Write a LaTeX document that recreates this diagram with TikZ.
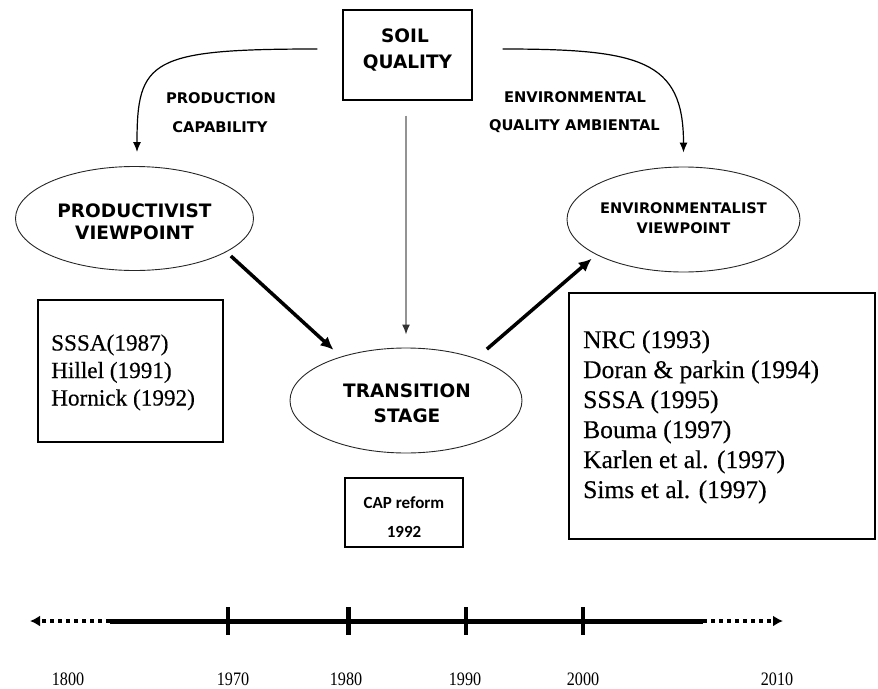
\documentclass[tikz,border=0pt]{standalone}
\usepackage{fontspec}
\usetikzlibrary{shapes.geometric,arrows.meta}
\newfontfamily\dvs{DejaVu Sans}
\newfontfamily\carl{Carlito}
\newfontfamily\lser{Liberation Serif}[FakeBold=0.35]
\newfontfamily\yser{Liberation Serif}
\begin{document}
\begin{tikzpicture}[x=1pt,y=-1pt,
 box/.style={draw=black, line width=1.2pt, rectangle, inner sep=0pt},
 ell/.style={draw=black!85, line width=0.9pt, ellipse, inner sep=0pt},
 head/.style={font=\dvs\bfseries\fontsize{18.5}{22}\selectfont, inner sep=0pt, anchor=base},
 envhead/.style={head, font=\dvs\bfseries\fontsize{14.6}{20}\selectfont},
 lab/.style={font=\dvs\bfseries\fontsize{14.7}{20}\selectfont, inner sep=0pt, anchor=base},
 capt/.style={font=\carl\bfseries\fontsize{17}{20}\selectfont, inner sep=0pt, anchor=base},
 refl/.style={font=\lser\fontsize{23.2}{27}\selectfont, inner sep=0pt, anchor=base west},
 refr/.style={font=\lser\fontsize{25.5}{30}\selectfont, inner sep=0pt, anchor=base west},
 yr/.style={font=\yser\fontsize{19}{19}\selectfont, inner sep=0pt, anchor=base, xscale=0.85, transform shape},
 curv/.style={line width=1.2pt, -{Latex[length=10pt,width=8pt]}},
 thickarr/.style={line width=3.5pt, -{Latex[length=13pt,width=12pt]}},
 grayarr/.style={draw=gray!85, line width=1.5pt, -{Latex[length=10pt,width=8pt,black!80]}},
 dotline/.style={line width=4pt, dash pattern=on 4pt off 4pt, -{Latex[length=10pt,width=11pt]}},
]
\useasboundingbox (0,0) rectangle (878,688);

% boxes and ellipses
\node[box, minimum width=129pt, minimum height=90pt] (soil) at (407.5,55) {};
\node[ell, minimum width=238pt, minimum height=104pt] (prod) at (134.5,218.5) {};
\node[ell, minimum width=233pt, minimum height=105pt] (env) at (683.5,219.5) {};
\node[ell, minimum width=232pt, minimum height=105pt] (trans) at (406,400.5) {};
\node[box, minimum width=185pt, minimum height=142pt] (lbox) at (130.5,371) {};
\node[box, minimum width=306pt, minimum height=246pt] (rbox) at (722,416) {};
\node[box, minimum width=118pt, minimum height=69pt] (cap) at (404,512.5) {};

% texts
\node[head] (soilA) at (405,42) {SOIL};
\node[head] (soilB) at (407.5,68) {QUALITY};
\node[head] (prodA) at (134.5,217) {PRODUCTIVIST};
\node[head] (prodB) at (134.5,239) {VIEWPOINT};
\node[envhead] (envA) at (683.5,213) {ENVIRONMENTALIST};
\node[envhead] (envB) at (683.5,233) {VIEWPOINT};
\node[head] (transA) at (407,397) {TRANSITION};
\node[head] (transB) at (407,422) {STAGE};
\node[lab] (labA) at (221,103) {PRODUCTION};
\node[lab] (labB) at (220,132) {CAPABILITY};
\node[lab] (labC) at (575,102) {ENVIRONMENTAL};
\node[lab] (labD) at (574.5,130) {QUALITY AMBIENTAL};
\node[capt] (capA) at (404,508) {CAP reform};
\node[capt] (capB) at (404,537) {1992};

\node[refl] (l1) at (51,350.5) {SSSA(1987)};
\node[refl] (l2) at (51,378) {Hillel (1991)};
\node[refl] (l3) at (51,405.5) {Hornick (1992)};

\node[refr] (r1) at (583,348) {NRC (1993)};
\node[refr] (r2) at (583,378) {Doran \& parkin (1994)};
\node[refr] (r3) at (583,408) {SSSA (1995)};
\node[refr] (r4) at (583,438) {Bouma (1997)};
\node[refr] (r5) at (583,468) {Karlen et al. (1997)};
\node[refr] (r6) at (583,498) {Sims et al. (1997)};

% connectors
\draw[curv] ([xshift=-25pt,yshift=6pt]soil.west) .. controls (150,49) and (137,60) .. ([xshift=2.5pt,yshift=14pt]prod.north);
\draw[curv] ([xshift=30pt,yshift=6pt]soil.east) .. controls (640,49) and (683.5,60) .. ([yshift=14pt]env.north);
\draw[grayarr, shorten <=15pt, shorten >=13pt] (soil.south -| trans.north) -- (trans.north);
\draw[thickarr, shorten <=6pt, shorten >=10pt] (prod.-20) -- (trans.146);
\draw[thickarr, shorten <=14pt, shorten >=6pt] (trans.31) -- (env.202);

% timeline
\coordinate (tlL) at (30,621);
\coordinate (tlA) at (110,621);
\coordinate (tlB) at (703,621);
\coordinate (tlR) at (783,621);
\draw[dotline] (tlA) -- (tlL);
\draw[dotline] (tlB) -- (tlR);
\draw[line width=5pt] (tlA) -- (tlB);
\foreach \x/\w in {228/4,348/5,466/4,583/4}
  \draw[line width=\w pt] (\x,607) -- (\x,635);

\node[yr] (y1) at (68,685) {1800};
\node[yr] (y2) at (233,685) {1970};
\node[yr] (y3) at (346,685) {1980};
\node[yr] (y4) at (465,685) {1990};
\node[yr] (y5) at (583,685) {2000};
\node[yr] (y6) at (777,685) {2010};
\end{tikzpicture}
\end{document}
